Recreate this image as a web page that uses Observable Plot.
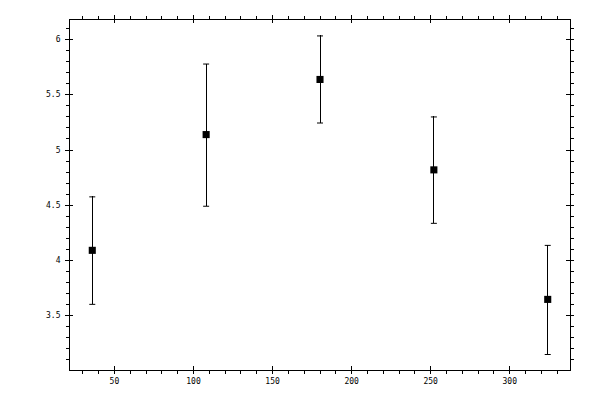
<!DOCTYPE html>
<html>
<head>
<meta charset="utf-8">
<script src="https://cdn.jsdelivr.net/npm/d3@7"></script>
<script src="https://cdn.jsdelivr.net/npm/@observablehq/plot@0.6"></script>
<style>
  html, body { margin: 0; padding: 0; background: white; }
  #chart svg line { shape-rendering: crispEdges; }
</style>
</head>
<body>
<div id="chart"></div>
<script>
// Data
const xValues = [36, 108, 180, 252, 324];
const yValues = [4.09, 5.14, 5.64, 4.82, 3.645];
const yLow    = [3.60, 4.49, 5.245, 4.335, 3.145];
const yHigh   = [4.575, 5.78, 6.035, 5.30, 4.135];

// Tick values
const xMajor = [50, 100, 150, 200, 250, 300];
const xMinor = [30, 40, 60, 70, 80, 90, 110, 120, 130, 140, 160, 170, 180, 190, 210, 220, 230, 240, 260, 270, 280, 290, 310, 320, 330];
const yMajor = [3.5, 4, 4.5, 5, 5.5, 6];
const yMinor = [3.1, 3.2, 3.3, 3.4, 3.6, 3.7, 3.8, 3.9, 4.1, 4.2, 4.3, 4.4, 4.6, 4.7, 4.8, 4.9, 5.1, 5.2, 5.3, 5.4, 5.6, 5.7, 5.8, 5.9, 6.1];

const data = xValues.map((x, i) => ({x, y: yValues[i], lo: yLow[i], hi: yHigh[i]}));

const W = 600, H = 400;
const mt = 19, mb = 30, ml = 69, mr = 30;
const ph = H - mt - mb, pw = W - ml - mr;
const major = 4, minor = 3.5;

const cap = {
  draw(context, size) {
    const w = Math.sqrt(size / Math.PI);
    context.moveTo(-w, 0);
    context.lineTo(w, 0);
  }
};

const font = "'DejaVu Sans Mono', monospace";

const chart = Plot.plot({
  width: W,
  height: H,
  marginTop: mt,
  marginBottom: mb,
  marginLeft: ml,
  marginRight: mr,
  style: {background: "white", color: "black", fontFamily: font, fontSize: "8px"},
  x: {domain: [21.6, 338.4]},
  y: {domain: [3.0, 6.184]},
  marks: [
    Plot.frame({stroke: "black", strokeWidth: 1}),
    // x major ticks: bottom and top (crossing frame)
    Plot.ruleX(xMajor, {x: d => d, insetTop: ph - major, insetBottom: -major, stroke: "black"}),
    Plot.ruleX(xMajor, {x: d => d, insetTop: -major, insetBottom: ph - major, stroke: "black"}),
    // x minor ticks (outward)
    Plot.ruleX(xMinor, {x: d => d, insetTop: ph, insetBottom: -minor, stroke: "black"}),
    Plot.ruleX(xMinor, {x: d => d, insetTop: -minor, insetBottom: ph, stroke: "black"}),
    // y major ticks: left and right
    Plot.ruleY(yMajor, {y: d => d, insetLeft: -major, insetRight: pw - major, stroke: "black"}),
    Plot.ruleY(yMajor, {y: d => d, insetLeft: pw - major, insetRight: -major, stroke: "black"}),
    // y minor ticks (outward)
    Plot.ruleY(yMinor, {y: d => d, insetLeft: -minor, insetRight: pw, stroke: "black"}),
    Plot.ruleY(yMinor, {y: d => d, insetLeft: pw, insetRight: -minor, stroke: "black"}),
    // labels
    Plot.axisX({ticks: xMajor, tickSize: 0, tickPadding: 8, label: null, tickFormat: d => String(d), fontSize: 8, fill: "black"}),
    Plot.axisY({ticks: yMajor, tickSize: 0, tickPadding: 9, label: null, tickFormat: d => String(d), fontSize: 8, fill: "black"}),
    // error bars
    Plot.ruleX(data, {x: "x", y1: "lo", y2: "hi", stroke: "black", strokeWidth: 1}),
    Plot.dot(data, {x: "x", y: "lo", symbol: cap, r: 3, stroke: "black", fill: "none", strokeWidth: 1}),
    Plot.dot(data, {x: "x", y: "hi", symbol: cap, r: 3, stroke: "black", fill: "none", strokeWidth: 1}),
    // markers
    Plot.dot(data, {x: "x", y: "y", symbol: "square", r: 4, fill: "black", stroke: "none"})
  ]
});

document.getElementById("chart").appendChild(chart);
</script>
</body>
</html>
